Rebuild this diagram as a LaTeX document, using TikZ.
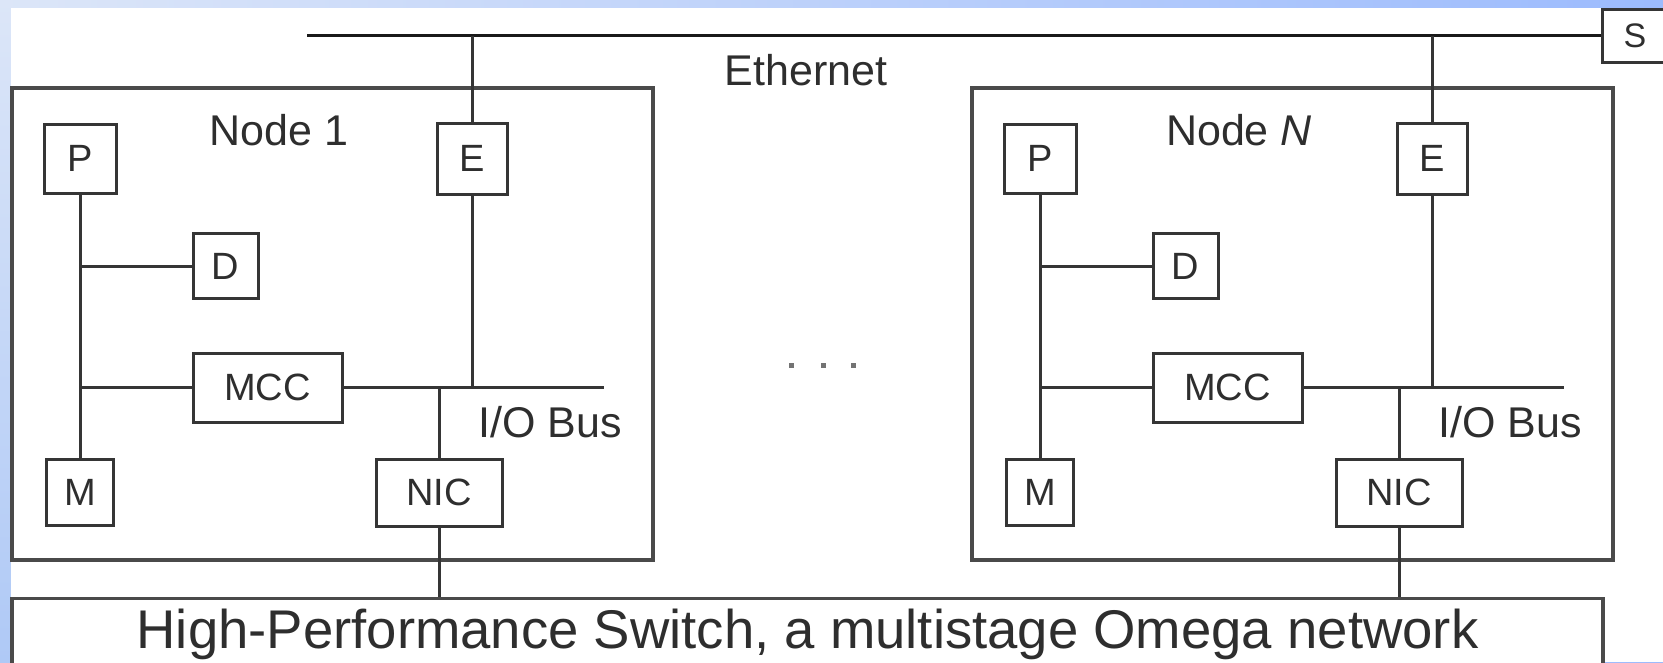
\documentclass[tikz,border=0pt]{standalone}
\usepackage{fontspec}
\setmainfont{Liberation Sans}
\definecolor{linegray}{HTML}{353535}
\definecolor{framegray}{HTML}{4A4A4A}
\definecolor{textgray}{HTML}{2E2E2E}
\definecolor{skyA}{HTML}{DCE6F8}
\definecolor{skyB}{HTML}{9CBBFD}
\definecolor{skyC}{HTML}{AFC9F6}
\newcommand\unitfont{\fontsize{38}{44}\selectfont}
\newcommand\titlefont{\fontsize{43}{50}\selectfont}
\newcommand\switchfont{\fontsize{54.5}{62}\selectfont}
\tikzset{
  unit/.style={draw=linegray, line width=3pt, fill=white, inner sep=0pt,
    font=\unitfont, text=textgray},
  frame/.style={draw=framegray, line width=3.4pt, inner sep=0pt},
  wire/.style={draw=linegray, line width=3pt},
  ether/.style={draw=black!90, line width=3.8pt},
  caption/.style={inner sep=0pt, font=\titlefont, text=textgray},
}
% One cluster node: processor, disk, memory, memory controller, Ethernet and NIC
\newcommand\clusternode[3]{%
  \begin{scope}[xshift=#2pt, name prefix=#1-]
    \node[frame, minimum width=641pt, minimum height=472pt] (box) at (332.5,324) {};
    \node[caption, anchor=base] (title) at (279,145) {#3};
    \node[unit, minimum width=72pt, minimum height=69pt] (P) at (80,158.5) {P};
    \node[unit, minimum width=65pt, minimum height=65pt] (D) at (225.5,266) {D};
    \node[unit, minimum width=149pt, minimum height=69pt] (MCC) at (267.5,387.5) {MCC};
    \node[unit, minimum width=67pt, minimum height=66pt] (M) at (80,492) {M};
    \node[unit, minimum width=126pt, minimum height=67pt] (NIC) at (439,492.5) {NIC};
    \node[unit, minimum width=70pt, minimum height=71pt] (E) at (472,158.5) {E};
    \coordinate (busend) at (604,387.5);
    \node[caption, anchor=base west] (bus) at (478,437) {I/O Bus};
    \draw[wire] (P.south) -- (M.north);
    \draw[wire] (P.south |- D.west) -- (D.west);
    \draw[wire] (P.south |- MCC.west) -- (MCC.west);
    \draw[wire] (MCC.east) -- (busend);
    \draw[wire] (E.south) -- (E.south |- MCC.east);
    \draw[wire] (NIC.north) -- (NIC.north |- MCC.east);
  \end{scope}}
\begin{document}
\begin{tikzpicture}[x=1pt, y=-1pt]
  \useasboundingbox (0,0) rectangle (1663,662);
  \clip (0,0) rectangle (1663,662);
  % slide background: blue band on top and left, white page
  \shade[left color=skyA, right color=skyB] (0,0) rectangle (1663,662);
  \shade[top color=skyA, bottom color=skyC] (0,0) rectangle (11,662);
  \fill[white] (11,8) rectangle (1663,662);

  \clusternode{n1}{0}{Node 1}
  \clusternode{nN}{960}{Node \textit{N}}

  % Ethernet segment and its switch
  \node[unit, minimum width=66pt, minimum height=53pt, font=\fontsize{34}{40}\selectfont]
    (S) at (1635,35.5) {S};
  \coordinate (ethstart) at (307,35.5);
  \draw[ether] (ethstart) -- (S.west);
  \node[caption, anchor=base] (ethlabel) at (806,85) {Ethernet};
  \draw[wire] (n1-E.north) -- (n1-E.north |- S.west);
  \draw[wire] (nN-E.north) -- (nN-E.north |- S.west);

  % High-performance switch
  \node[draw=framegray, line width=3.4pt, fill=white, anchor=north,
    minimum width=1591pt, inner xsep=0pt, inner ysep=10pt,
    text height=40pt, text depth=14pt, font=\switchfont, text=textgray]
    (sw) at (807.5,597) {High-Performance Switch, a multistage Omega network};
  \draw[wire] (n1-NIC.south) -- (n1-NIC.south |- sw.north);
  \draw[wire] (nN-NIC.south) -- (nN-NIC.south |- sw.north);

  % ellipsis between the nodes
  \foreach \dx in {791,823,853}
    \fill[black!55] (\dx-2.5,362.5) rectangle (\dx+2.5,367.5);
\end{tikzpicture}
\end{document}
